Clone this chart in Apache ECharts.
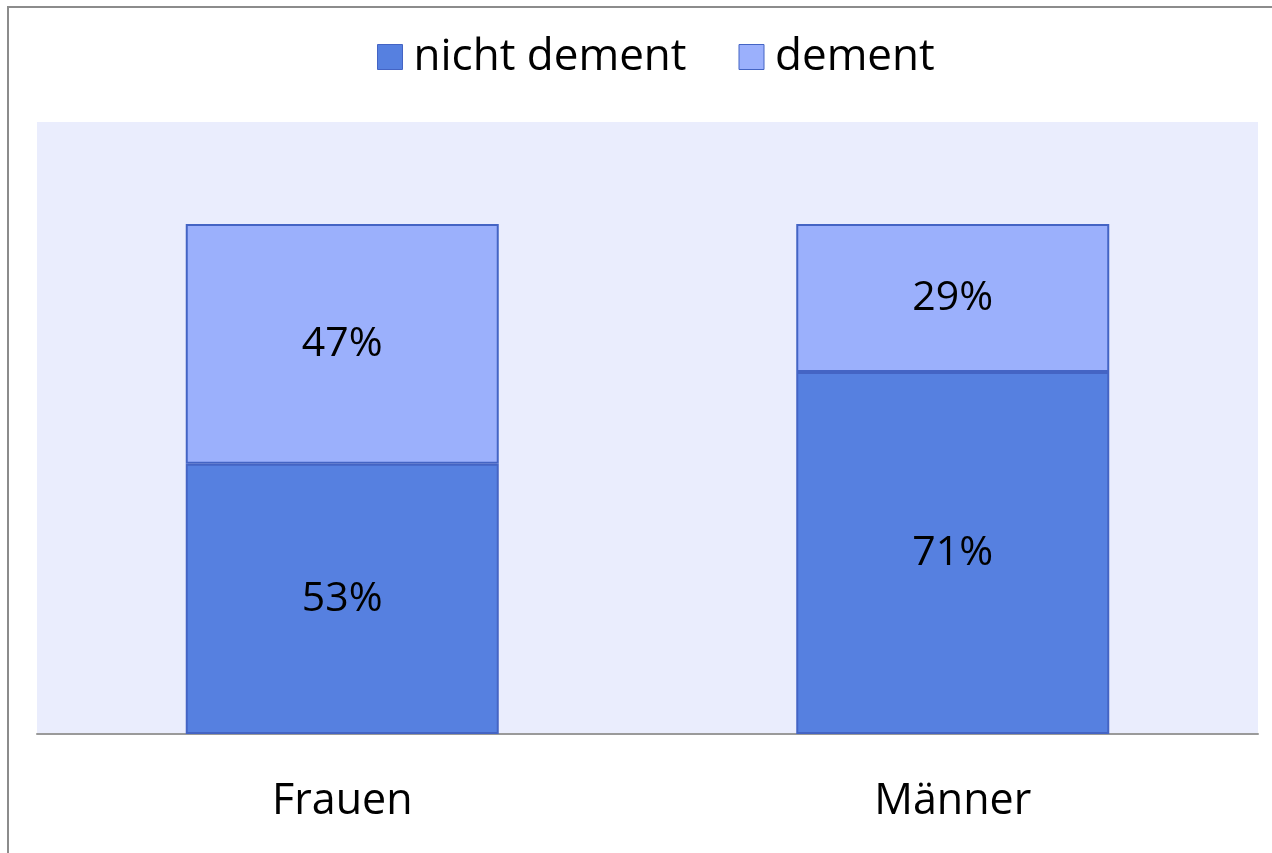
<!DOCTYPE html>
<html>
<head>
<meta charset="utf-8">
<script src="https://cdn.jsdelivr.net/npm/echarts@6/dist/echarts.min.js"></script>
<style>
  html, body { margin: 0; padding: 0; background: #fff; }
  #chart { width: 1272px; height: 853px; }
</style>
</head>
<body>
<div id="chart"></div>
<script>
// Share of dementia by sex (percent, stacked to 100)
const categories = ['Frauen', 'Männer'];
const nichtDement = [53, 71];
const dement = [47, 29];
const seriesNames = ['nicht dement', 'dement'];

const FONT = '"Open Sans", "Noto Sans", sans-serif';
const chart = echarts.init(document.getElementById('chart'));

const labelStyle = {
  show: true,
  position: 'inside',
  formatter: (p) => p.value + '%',
  color: '#000',
  fontSize: 41,
  fontFamily: FONT
};

chart.setOption({
  animation: false,
  legend: {
    top: 30,
    left: 372,
    icon: 'rect',
    itemWidth: 25,
    itemHeight: 25,
    itemGap: 52,
    itemStyle: { borderColor: '#4464c4', borderWidth: 1 },
    textStyle: { fontSize: 44, fontFamily: FONT, color: '#000', padding: [0, 0, 0, 6] },
    data: seriesNames
  },
  grid: {
    left: 37,
    right: 14,
    top: 122,
    bottom: 119,
    show: true,
    backgroundColor: '#eaedfd',
    borderWidth: 0
  },
  xAxis: {
    type: 'category',
    data: categories,
    axisLine: { lineStyle: { color: '#9a9a9a', width: 2 } },
    axisTick: { show: false },
    axisLabel: { fontSize: 43, fontFamily: FONT, color: '#000', margin: 46 }
  },
  yAxis: {
    type: 'value',
    min: 0,
    max: 120,
    show: false,
    splitLine: { show: false }
  },
  graphic: [
    {
      type: 'polyline',
      shape: { points: [[8, 853], [8, 7], [1272, 7]] },
      style: { stroke: '#8c8c8c', lineWidth: 2, fill: null }
    }
  ],
  series: [
    {
      name: seriesNames[0],
      type: 'bar',
      stack: 'total',
      barWidth: 313,
      data: nichtDement,
      itemStyle: { color: '#5680e0', borderColor: '#4464c4', borderWidth: 2 },
      label: labelStyle
    },
    {
      name: seriesNames[1],
      type: 'bar',
      stack: 'total',
      barWidth: 313,
      data: dement,
      itemStyle: { color: '#9bb0fc', borderColor: '#4464c4', borderWidth: 2 },
      label: labelStyle
    }
  ]
});
</script>
</body>
</html>
